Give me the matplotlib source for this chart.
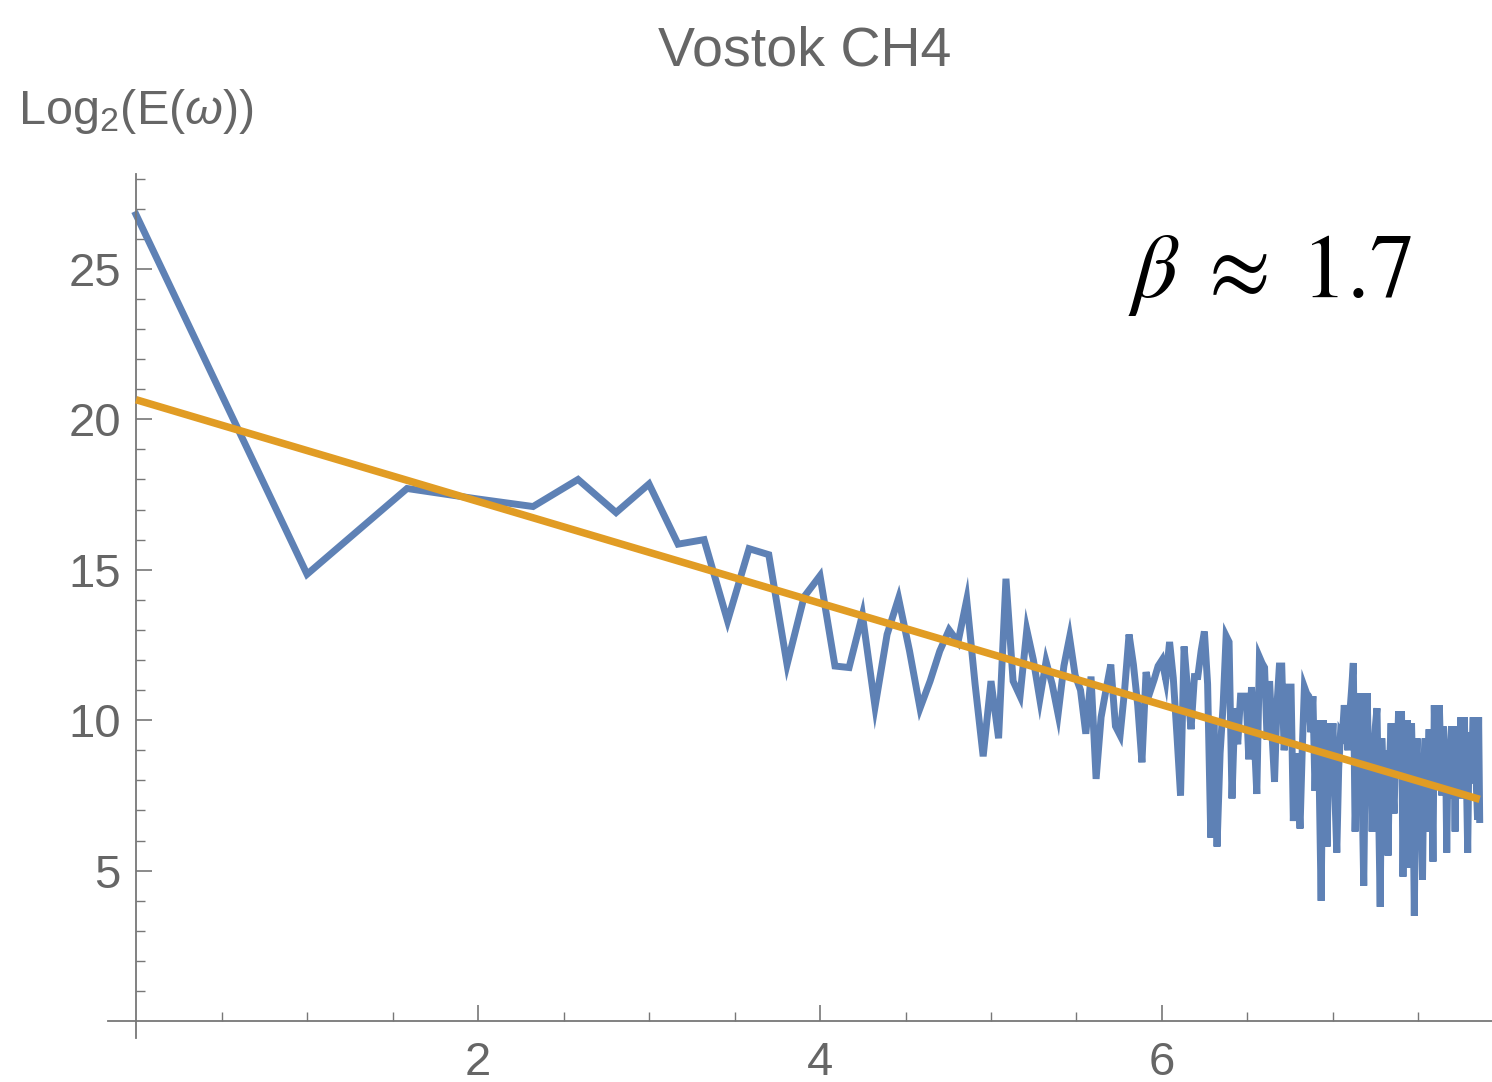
import numpy as np
import matplotlib
matplotlib.use("Agg")
import matplotlib.pyplot as plt
from matplotlib.ticker import FixedLocator

# spectrum values Log2(E(w)) for k = 1..232, x = log2(k)
spectrum = [
    26.8, 14.85, 17.7, 17.35, 17.1, 18.0, 16.9, 17.85, 15.85, 16.0,
    13.3, 15.7, 15.5, 11.85, 14.1, 14.8, 11.8, 11.75, 13.5, 10.45,
    12.85, 14.05, 12.3, 10.4, 11.3, 12.3, 13.0, 12.6, 14.0, 11.2,
    8.8, 11.3, 9.4, 14.7, 11.3, 10.8, 13.0, 12.0, 10.7, 11.95,
    11.2, 10.2, 11.8, 12.75, 11.5, 11.0, 9.55, 11.45, 8.05, 10.1,
    11.0, 11.85, 9.8, 9.5, 11.0, 12.85, 11.85, 10.5, 8.6, 11.6,
    10.95, 11.35, 11.8, 12.0, 11.35, 12.6, 11.4, 9.5, 7.5, 12.45,
    11.0, 9.7, 11.45, 11.45, 12.3, 12.95, 11.2, 6.1, 10.0, 5.8,
    8.9, 10.5, 12.8, 12.6, 7.4, 10.4, 9.2, 10.8, 10.8, 10.8,
    8.7, 11.1, 9.5, 7.55, 12.1, 11.9, 11.75, 9.35, 11.3, 9.5,
    7.95, 10.5, 11.8, 11.8, 9.0, 10.0, 11.1, 11.1, 6.65, 8.9,
    8.0, 6.4, 9.0, 11.1, 10.9, 10.8, 9.6, 10.8, 7.65, 10.0,
    8.2, 4.0, 10.0, 8.6, 5.8, 9.9, 8.8, 9.9, 7.5, 5.6,
    8.4, 9.6, 9.5, 10.5, 9.7, 9.0, 10.2, 11.0, 11.9, 6.3,
    8.7, 9.6, 10.9, 7.6, 4.5, 9.2, 10.9, 8.4, 9.5, 6.3,
    8.8, 9.8, 10.4, 7.2, 3.8, 9.4, 8.0, 7.3, 9.0, 5.5,
    8.6, 9.9, 8.0, 6.9, 9.2, 8.7, 10.3, 8.2, 10.3, 4.8,
    8.8, 7.6, 10.0, 8.6, 5.1, 9.9, 7.8, 3.5, 8.4, 9.4,
    7.7, 8.8, 6.9, 4.7, 8.5, 9.4, 6.3, 8.6, 9.7, 7.9,
    8.6, 5.3, 10.5, 8.4, 9.6, 7.8, 10.5, 8.9, 7.5, 9.8,
    8.2, 9.1, 5.6, 8.8, 7.4, 9.3, 9.8, 7.6, 9.0, 6.3,
    9.8, 8.1, 9.4, 7.9, 10.1, 7.4, 9.0, 10.1, 8.4, 7.8,
    5.6, 8.7, 9.6, 7.9, 9.2, 10.1, 8.3, 9.5, 7.7, 6.7,
    10.1, 6.7,
]

# fitted line (slope = -beta)
fit_intercept = 20.65
fit_slope = -1.69

title = "Vostok CH4"
x_ticks = [2, 4, 6]
y_ticks = [5, 10, 15, 20, 25]

plt.rcParams["font.family"] = ["Liberation Sans", "DejaVu Sans"]
plt.rcParams["mathtext.fontset"] = "custom"
plt.rcParams["mathtext.rm"] = "Liberation Sans"
plt.rcParams["mathtext.it"] = "Liberation Sans:italic"

gray = "#666666"
axis_gray = "#777777"

k = np.arange(1, len(spectrum) + 1)
x = np.log2(k)
y = np.array(spectrum)

fig = plt.figure(figsize=(14.92, 10.82), dpi=100)
ax = fig.add_axes([108 / 1492, 44 / 1082, 1384 / 1492, 864 / 1082])

ax.plot(x, y, color="#5E81B5", lw=5.0, solid_joinstyle="miter", zorder=2)
xf = np.array([0, x[-1]])
ax.plot(xf, fit_intercept + fit_slope * xf, color="#E19C24", lw=5.4,
        solid_capstyle="butt", zorder=3)

ax.set_xlim(-0.164, 7.93)
ax.set_ylim(-0.56, 28.15)

for s in ["top", "right"]:
    ax.spines[s].set_visible(False)
ax.spines["left"].set_position(("data", 0))
ax.spines["bottom"].set_position(("data", 0))
for s in ["left", "bottom"]:
    ax.spines[s].set_color(axis_gray)
    ax.spines[s].set_linewidth(1.3)

ax.xaxis.set_major_locator(FixedLocator(x_ticks))
ax.xaxis.set_minor_locator(FixedLocator([v for v in np.arange(0.5, 8.0, 0.5) if v not in x_ticks]))
ax.yaxis.set_major_locator(FixedLocator(y_ticks))
ax.yaxis.set_minor_locator(FixedLocator([v for v in range(1, 29) if v not in y_ticks]))

ax.tick_params(axis="x", which="major", direction="in", length=11.5, width=1.2,
               colors=axis_gray, labelcolor=gray, labelsize=34, pad=14)
ax.tick_params(axis="x", which="minor", direction="in", length=6.5, width=1.0,
               colors=axis_gray)
ax.tick_params(axis="y", which="major", direction="in", length=11.5, width=1.2,
               colors=axis_gray, labelcolor=gray, labelsize=34, pad=11)
ax.tick_params(axis="y", which="minor", direction="in", length=6.5, width=1.0,
               colors=axis_gray)

fig.text(805 / 1492, 1 - 65 / 1082, title, ha="center", va="baseline",
         fontsize=40, color=gray)
fig.text(18 / 1492, 1 - 124 / 1082, r"Log$_2$(E($\omega$))", ha="left",
         va="baseline", fontsize=35, color=gray)
fig.text(1128 / 1492, 1 - 297 / 1082, r"$\beta\;\approx\;1.7$", ha="left",
         va="baseline", fontsize=65, color="black", math_fontfamily="stix")

fig.savefig("out.png", dpi=100)
